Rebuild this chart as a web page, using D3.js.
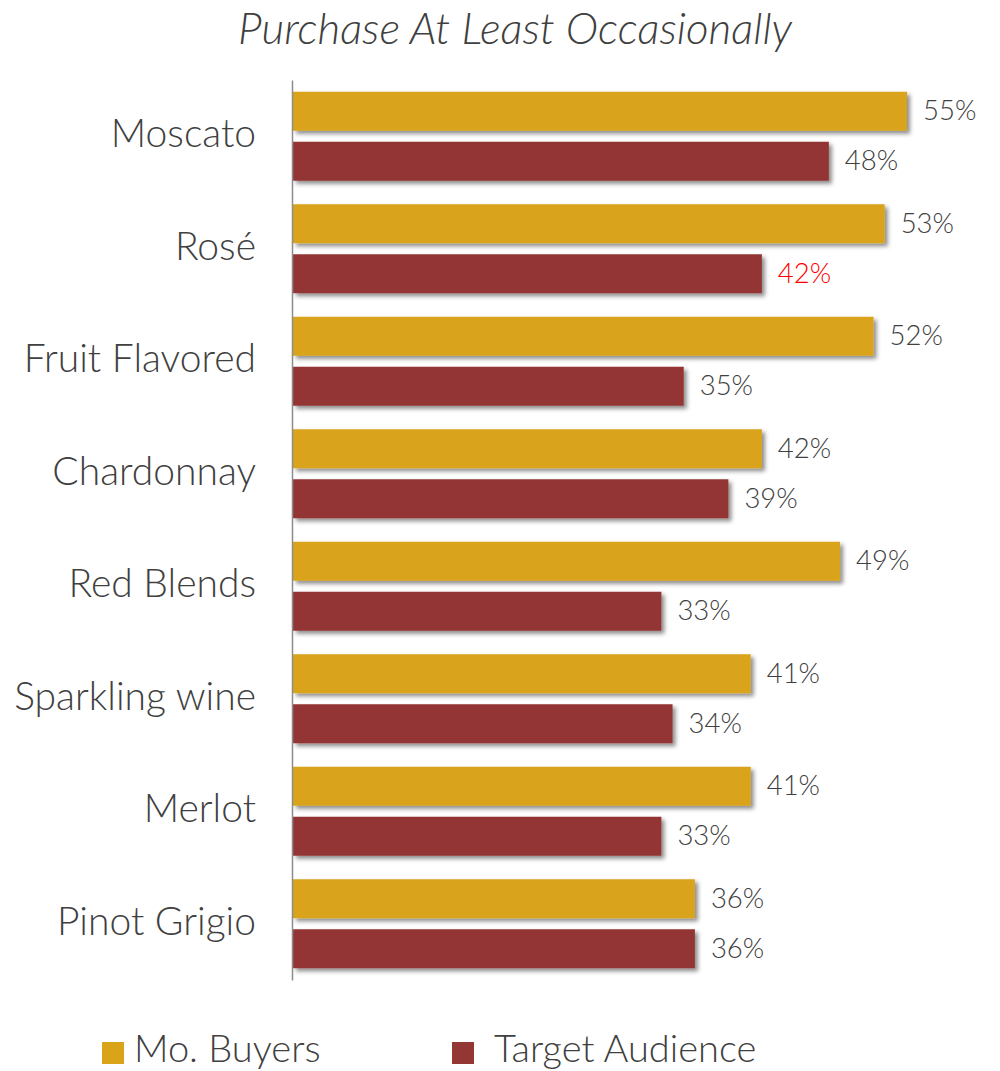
<!DOCTYPE html>
<html>
<head>
<meta charset="utf-8">
<script src="https://cdn.jsdelivr.net/npm/d3@7"></script>
<style>
  html, body { margin: 0; padding: 0; background: #fff; }
  svg { display: block; }
  text { font-family: Lato, "Open Sans", sans-serif; fill: #404040; }
</style>
</head>
<body>
<svg id="chart" width="1000" height="1071"></svg>
<script>
// Wine varietals and share who purchase at least occasionally (%)
const categories = ["Moscato", "Rosé", "Fruit Flavored", "Chardonnay", "Red Blends", "Sparkling wine", "Merlot", "Pinot Grigio"];
const seriesNames = ["Mo. Buyers", "Target Audience"];
const moBuyers = [55, 53, 52, 42, 49, 41, 41, 36];
const targetAudience = [48, 42, 35, 39, 33, 34, 33, 36];
const highlightedLabels = [{ series: "Target Audience", category: "Rosé" }];
const seriesColors = ["#D9A41A", "#943634"];

const rows = categories.map((c, i) => ({
  category: c,
  values: [
    { series: seriesNames[0], value: moBuyers[i] },
    { series: seriesNames[1], value: targetAudience[i] }
  ]
}));

const svg = d3.select("#chart");

// bar shadow
const defs = svg.append("defs");
const f = defs.append("filter").attr("id", "shadow")
  .attr("x", "-5%").attr("y", "-20%").attr("width", "115%").attr("height", "160%");
f.append("feDropShadow").attr("dx", 3).attr("dy", 3).attr("stdDeviation", 2)
  .attr("flood-color", "#000").attr("flood-opacity", 0.45);

const x0 = 293;
const x = d3.scaleLinear().domain([0, 55]).range([x0, x0 + 614]);
const y = d3.scaleBand().domain(categories).range([80, 980]).padding(0);
const ySub = d3.scaleBand().domain(seriesNames).range([0, y.bandwidth()])
  .paddingInner(0.22).paddingOuter(0.235);
const color = d3.scaleOrdinal().domain(seriesNames).range(seriesColors);

// title
svg.append("text")
  .attr("x", 515).attr("y", 44)
  .attr("text-anchor", "middle")
  .attr("font-size", 44).attr("font-style", "italic").attr("font-weight", 300)
  .text("Purchase At Least Occasionally");

const groups = svg.append("g").selectAll("g")
  .data(rows).join("g")
  .attr("transform", d => `translate(0,${y(d.category)})`);

groups.selectAll("rect")
  .data(d => d.values).join("rect")
  .attr("x", x(0))
  .attr("y", d => ySub(d.series))
  .attr("width", d => x(d.value) - x(0))
  .attr("height", ySub.bandwidth())
  .attr("fill", d => color(d.series))
  .attr("filter", "url(#shadow)");

groups.selectAll("text.value")
  .data(d => d.values.map(v => ({ ...v, category: d.category }))).join("text")
  .attr("class", "value")
  .attr("x", d => x(d.value) + 16)
  .attr("y", d => ySub(d.series) + ySub.bandwidth() / 2)
  .attr("dy", "0.33em")
  .attr("font-size", 27.5).attr("font-weight", 300)
  .style("fill", d => highlightedLabels.some(h => h.series === d.series && h.category === d.category) ? "#FF0000" : "#404040")
  .text(d => d.value + "%");

// category axis
const yAxis = d3.axisLeft(y).tickSize(0).tickPadding(36);
const axisG = svg.append("g").attr("transform", `translate(${x0 - 1},0)`).call(yAxis);
axisG.select(".domain").attr("stroke", "#8c8c8c").attr("stroke-width", 1.5);
axisG.selectAll(".tick text")
  .attr("font-size", 39).attr("font-weight", 300)
  .attr("dy", "0.28em")
  .style("font-family", "Lato, 'Open Sans', sans-serif")
  .attr("fill", "#404040");

// legend
const legendItems = [{ name: seriesNames[0], sx: 102, tx: 134 }, { name: seriesNames[1], sx: 452, tx: 494 }];
const lg = svg.append("g").selectAll("g").data(legendItems).join("g");
lg.append("rect")
  .attr("x", d => d.sx).attr("y", 1042).attr("width", 22).attr("height", 22)
  .attr("fill", d => color(d.name));
lg.append("text")
  .attr("x", d => d.tx).attr("y", 1062)
  .attr("font-size", 38).attr("font-weight", 300)
  .text(d => d.name);
</script>
</body>
</html>
